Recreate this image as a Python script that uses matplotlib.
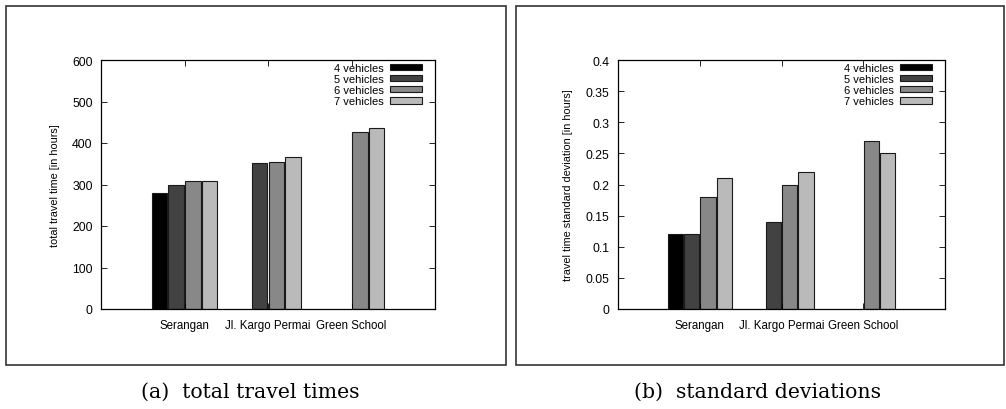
import numpy as np
import matplotlib.pyplot as plt
from matplotlib.patches import Rectangle

plt.rcParams["font.family"] = "Liberation Sans"

locations = ["Serangan", "Jl. Kargo Permai", "Green School"]
series = ["4 vehicles", "5 vehicles", "6 vehicles", "7 vehicles"]
colors = ["#000000", "#424242", "#888888", "#bababa"]

# total travel time [hours], nan = no bar
total_4 = [280, np.nan, np.nan]
total_5 = [300, 353, np.nan]
total_6 = [308, 355, 427]
total_7 = [308, 366, 437]

# travel time standard deviation [hours]
std_4 = [0.12, np.nan, np.nan]
std_5 = [0.12, 0.14, np.nan]
std_6 = [0.18, 0.20, 0.27]
std_7 = [0.21, 0.22, 0.25]

W, H = 1006, 410
fig = plt.figure(figsize=(W / 100, H / 100), dpi=100)


def px_axes(x0, y0, x1, y1):
    return fig.add_axes([x0 / W, 1 - y1 / H, (x1 - x0) / W, (y1 - y0) / H])


def draw(ax, data, ylim, yticks, ylabel, leg_xy):
    x = np.arange(len(locations))
    bw = 0.2
    for i, (vals, c, lab) in enumerate(zip(data, colors, series)):
        ax.bar(x + (i - 1.5) * bw, vals, bw * 0.93, color=c,
               edgecolor="#1a1a1a", linewidth=0.8, label=lab)
    ax.set_xlim(-1, 3)
    ax.set_ylim(*ylim)
    ax.set_xticks(x)
    ax.set_xticklabels(locations, fontsize=8.3)
    ax.set_yticks(yticks)
    ax.set_yticklabels([f"{v:g}" for v in yticks], fontsize=8.8)
    ax.tick_params(direction="in", top=True, right=True, length=4, width=0.6,
                   pad=6)
    ax.tick_params(axis="x", pad=7)
    ax.set_ylabel(ylabel, fontsize=7.8, labelpad=9)
    for s in ax.spines.values():
        s.set_linewidth(0.9)
    ax.legend(loc="upper right", markerfirst=False, frameon=False,
              fontsize=8, handlelength=2.9, handleheight=0.5,
              labelspacing=0.1, handletextpad=0.55,
              borderaxespad=0.0, borderpad=0.0,
              bbox_to_anchor=(leg_xy[0] / W, 1 - leg_xy[1] / H),
              bbox_transform=fig.transFigure)


ax1 = px_axes(101, 61, 435, 310)
draw(ax1, [total_4, total_5, total_6, total_7], (0, 600),
     [0, 100, 200, 300, 400, 500, 600], "total travel time [in hours]",
     (422, 64))

ax2 = px_axes(618, 61, 945, 310)
draw(ax2, [std_4, std_5, std_6, std_7], (0, 0.4),
     [0, 0.05, 0.1, 0.15, 0.2, 0.25, 0.3, 0.35, 0.4],
     "travel time standard deviation [in hours]", (932, 64))

# panel frames
for x0, x1 in [(6, 506), (516, 1004)]:
    fig.add_artist(Rectangle((x0 / W, 1 - 366 / H), (x1 - x0) / W, 359 / H,
                             transform=fig.transFigure, fill=False,
                             edgecolor="#333333", linewidth=1.2))

fig.text(250 / W, 1 - 392 / H, "(a)  total travel times", ha="center",
         va="center", fontsize=14.7, family="DejaVu Serif")
fig.text(757 / W, 1 - 392 / H, "(b)  standard deviations", ha="center",
         va="center", fontsize=14.7, family="DejaVu Serif")

fig.savefig("out.png", dpi=100)
